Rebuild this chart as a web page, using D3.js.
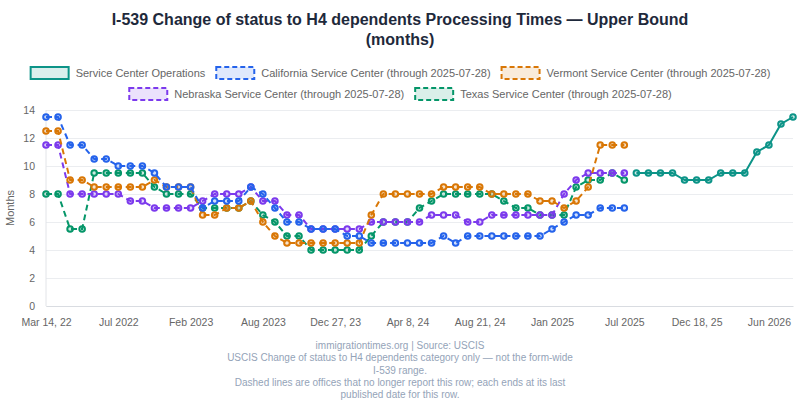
<!DOCTYPE html>
<html>
<head>
<meta charset="utf-8">
<script src="https://cdn.jsdelivr.net/npm/d3@7"></script>
<style>
  body { margin: 0; background: #fff; }
  svg { display: block; font-family: "Liberation Sans", Arial, sans-serif; }
</style>
</head>
<body>
<div id="chart"></div>
<script>
// x categories (one per report date); only some of them are labelled on the axis
const categories = [
  "Mar 14, 22", "Mar 28, 22", "Apr 2022", "May 2022", "May 27, 22", "Jun 2022",
  "Jul 2022", "Aug 2022", "Sep 2022", "Oct 2022", "Nov 2022", "Jan 2023",
  "Feb 2023", "Mar 2023", "Apr 2023", "May 2023", "Jun 2023", "Jul 2023",
  "Aug 2023", "Sep 2023", "Oct 2023", "Nov 2023", "Nov 28, 23", "Dec 2023",
  "Dec 27, 23", "Jan 2024", "Jan 30, 24", "Feb 2024", "Feb 29, 24", "Mar 2024",
  "Apr 8, 24", "May 2024", "May 29, 24", "Jun 2024", "Jul 2024", "Aug 2024",
  "Aug 21, 24", "Sep 2024", "Oct 2024", "Nov 2024", "Dec 2024", "Dec 20, 24",
  "Jan 2025", "Feb 2025", "Mar 2025", "Apr 2025", "May 2025", "Jun 2025",
  "Jul 2025", "Aug 2025", "Sep 2025", "Oct 2025", "Nov 2025", "Dec 2025",
  "Dec 18, 25", "Jan 2026", "Feb 2026", "Mar 2026", "Apr 2026", "May 2026",
  "Jun 2026", "Jul 2026", "Aug 2026"
];
const tickLabels = ["Mar 14, 22", "Jul 2022", "Feb 2023", "Aug 2023", "Dec 27, 23", "Apr 8, 24",
  "Aug 21, 24", "Jan 2025", "Jul 2025", "Dec 18, 25", "Jun 2026"];
const yTicks = [0, 2, 4, 6, 8, 10, 12, 14];

// Service Center Operations: the most recent dates only
const serviceCenterOps = [9.5, 9.5, 9.5, 9.5, 9, 9, 9, 9.5, 9.5, 9.5, 11, 11.5, 13, 13.5];
// offices: from the first date up to 2025-07-28
const california = [13.5, 13.5, 11.5, 11.5, 10.5, 10.5, 10, 10, 10, 9.5, 8.5, 8.5, 8.5, 7, 7.5, 7.5, 7.5,
  8.5, 8, 7, 6, 6, 5.5, 5.5, 5.5, 5, 5, 4.5, 4.5, 4.5, 4.5, 4.5, 4.5, 5, 4.5, 5, 5, 5, 5, 5, 5, 5,
  5.5, 6, 6.5, 6.5, 7, 7, 7];
const vermont = [12.5, 12.5, 9, 9, 8.5, 8.5, 8.5, 8.5, 8.5, 9, 8.5, 8.5, 8.5, 6.5, 6.5, 7, 7,
  7.5, 6, 5, 4.5, 4.5, 4.5, 4.5, 4.5, 4.5, 4.5, 6.5, 8, 8, 8, 8, 8, 8.5, 8.5, 8.5, 8.5, 8, 8, 8, 8, 7.5,
  7.5, 7, 7.5, 8.5, 11.5, 11.5, 11.5];
const nebraska = [11.5, 11.5, 8, 8, 8, 8, 8, 7.5, 7.5, 7, 7, 7, 7, 7.5, 8, 8, 8,
  8.5, 7.5, 7.5, 6.5, 6.5, 5.5, 5.5, 5.5, 5.5, 5.5, 6, 6, 6, 6, 6, 6.5, 6.5, 6.5, 6, 6, 6.5, 6.5, 6.5, 6.5, 6.5,
  6.5, 8, 9, 9.5, 9.5, 9.5, 9.5];
const texas = [8, 8, 5.5, 5.5, 9.5, 9.5, 9.5, 9.5, 9.5, 8.5, 8, 8, 8, 7, 7, 7, 7,
  7.5, 6.5, 6, 5, 5, 4, 4, 4, 4, 4, 5, 6, 6, 6, 7, 7.5, 8, 8, 8, 8, 8, 7.5, 7, 7, 6.5,
  6.5, 6.5, 8.5, 9, 9, 9.5, 9];

const seriesNames = [
  "Service Center Operations",
  "California Service Center (through 2025-07-28)",
  "Vermont Service Center (through 2025-07-28)",
  "Nebraska Service Center (through 2025-07-28)",
  "Texas Service Center (through 2025-07-28)"
];
const seriesColors = ["#0d9488", "#2563eb", "#d97706", "#7c3aed", "#059669"];

const titleLines = ["I-539 Change of status to H4 dependents Processing Times — Upper Bound", "(months)"];
const footerLines = [
  "immigrationtimes.org | Source: USCIS",
  "USCIS Change of status to H4 dependents category only — not the form-wide",
  "I-539 range.",
  "Dashed lines are offices that no longer report this row; each ends at its last",
  "published date for this row."
];

const width = 800, height = 400;
const plot = { left: 46, right: 793, top: 110, bottom: 306 };
const tickFont = 10.5;

const svg = d3.select("#chart").append("svg")
  .attr("width", width)
  .attr("height", height);

const x = d3.scalePoint().domain(categories).range([plot.left, plot.right]);
const y = d3.scaleLinear().domain([0, 14]).range([plot.bottom, plot.top]);

// title
svg.append("g").selectAll("text")
  .data(titleLines)
  .enter().append("text")
  .attr("x", width / 2)
  .attr("y", (d, i) => 25 + i * 20)
  .attr("text-anchor", "middle")
  .attr("font-size", 16)
  .attr("font-weight", "bold")
  .attr("fill", "#1e293b")
  .text(d => d);

// y axis + grid
const yAxis = svg.append("g")
  .attr("transform", `translate(${plot.left},0)`)
  .call(d3.axisLeft(y).tickValues(yTicks).tickSize(-(plot.right - plot.left)).tickPadding(11));
yAxis.select(".domain").remove();
yAxis.selectAll(".tick line").attr("stroke", "#ebedf0");
yAxis.selectAll(".tick text").attr("fill", "#666").attr("font-size", tickFont)
  .attr("font-family", "Liberation Sans, Arial, sans-serif");

svg.append("line")
  .attr("x1", plot.left).attr("x2", plot.left)
  .attr("y1", plot.top).attr("y2", plot.bottom)
  .attr("stroke", "#e2e4e8");

svg.append("text")
  .attr("transform", `translate(14,${(plot.top + plot.bottom) / 2}) rotate(-90)`)
  .attr("text-anchor", "middle")
  .attr("font-size", 11)
  .attr("fill", "#666")
  .text("Months");

// x axis
const xAxis = svg.append("g")
  .attr("transform", `translate(0,${plot.bottom})`)
  .call(d3.axisBottom(x).tickValues(tickLabels).tickSize(0).tickPadding(13));
xAxis.select(".domain").attr("stroke", "#d9dce1");
xAxis.selectAll(".tick text").attr("fill", "#666").attr("font-size", tickFont)
  .attr("font-family", "Liberation Sans, Arial, sans-serif");

// series
const series = [
  { name: seriesNames[0], color: seriesColors[0], dashed: false,
    points: categories.slice(categories.length - serviceCenterOps.length).map((c, i) => ({ c, v: serviceCenterOps[i] })) },
  { name: seriesNames[1], color: seriesColors[1], dashed: true, points: california.map((v, i) => ({ c: categories[i], v })) },
  { name: seriesNames[2], color: seriesColors[2], dashed: true, points: vermont.map((v, i) => ({ c: categories[i], v })) },
  { name: seriesNames[3], color: seriesColors[3], dashed: true, points: nebraska.map((v, i) => ({ c: categories[i], v })) },
  { name: seriesNames[4], color: seriesColors[4], dashed: true, points: texas.map((v, i) => ({ c: categories[i], v })) }
];

const line = d3.line().x(d => x(d.c)).y(d => y(d.v));

// first series ends up on top, like the original
series.slice().reverse().forEach(s => {
  const g = svg.append("g");
  g.append("path")
    .datum(s.points)
    .attr("d", line)
    .attr("fill", "none")
    .attr("stroke", s.color)
    .attr("stroke-width", 2)
    .attr("stroke-dasharray", s.dashed ? "6,4" : null);
  g.selectAll("circle")
    .data(s.points)
    .enter().append("circle")
    .attr("cx", d => x(d.c))
    .attr("cy", d => y(d.v))
    .attr("r", 2.8)
    .attr("fill", s.color)
    .attr("fill-opacity", 0.2)
    .attr("stroke", s.color)
    .attr("stroke-width", 2);
});

// legend, wrapped into centered rows
const legend = svg.append("g");
const boxW = 40, boxH = 12, gap = 6, itemPad = 10, maxRow = 760;
const items = series.map(s => {
  const g = legend.append("g");
  g.append("rect")
    .attr("x", 1).attr("y", -boxH / 2)
    .attr("width", boxW - 2).attr("height", boxH)
    .attr("fill", s.color).attr("fill-opacity", 0.15)
    .attr("stroke", s.color).attr("stroke-width", 2)
    .attr("stroke-dasharray", s.dashed ? "5,3" : null);
  const t = g.append("text")
    .attr("x", boxW + gap).attr("dy", "0.35em")
    .attr("font-size", 11).attr("fill", "#666")
    .text(s.name);
  return { g, w: boxW + gap + t.node().getComputedTextLength() };
});
const rows = [[]];
let rowW = 0;
items.forEach(it => {
  const add = (rows[rows.length - 1].length ? itemPad : 0) + it.w;
  if (rowW + add > maxRow && rows[rows.length - 1].length) { rows.push([it]); rowW = it.w; }
  else { rows[rows.length - 1].push(it); rowW += add; }
});
rows.forEach((row, r) => {
  const total = d3.sum(row, d => d.w) + itemPad * (row.length - 1);
  let cx = (width - total) / 2;
  row.forEach(it => {
    it.g.attr("transform", `translate(${cx},${73 + r * 21})`);
    cx += it.w + itemPad;
  });
});

// footer
svg.append("g").selectAll("text")
  .data(footerLines)
  .enter().append("text")
  .attr("x", width / 2)
  .attr("y", (d, i) => 349 + i * 12.3)
  .attr("text-anchor", "middle")
  .attr("font-size", 10)
  .attr("fill", "#94a3b8")
  .text(d => d);
</script>
</body>
</html>
